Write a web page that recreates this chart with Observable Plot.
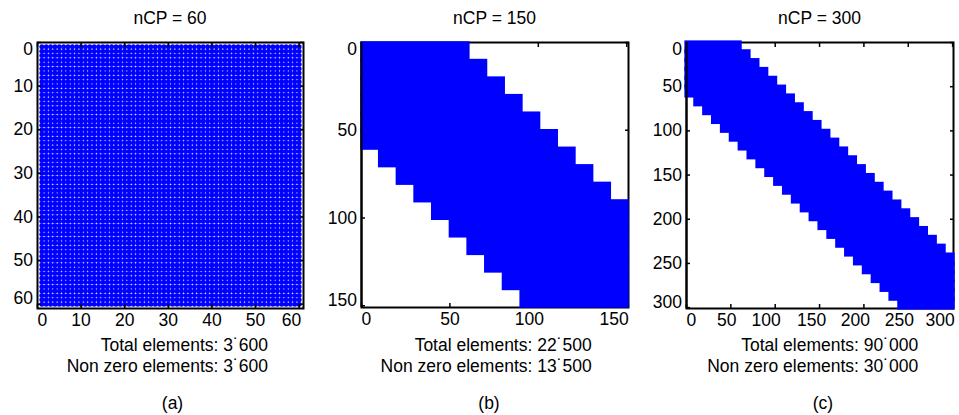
<!DOCTYPE html>
<html><head><meta charset="utf-8">
<script src="https://cdn.jsdelivr.net/npm/d3@7"></script>
<script src="https://cdn.jsdelivr.net/npm/@observablehq/plot@0.6"></script>
<style>
body{margin:0;background:#fff;}
#root{position:relative;width:959px;height:415px;overflow:hidden;font-family:"Liberation Sans",Arial,sans-serif;color:#000;background:#fff;}
.t{position:absolute;font-size:17.5px;white-space:nowrap;line-height:1;}
.p{position:absolute;top:0;}
</style></head><body><div id="root"></div>
<script>
// ---------- data ----------
const panelLabels = ["(a)", "(b)", "(c)"];
const nCP = [60, 150, 300];
const totalElements = ["3˙600", "22˙500", "90˙000"];
const nonZeroElements = ["3˙600", "13˙500", "30˙000"];

// non-zero pattern, stored as blocks of rows with their column ranges
const aRowStart = [1, 11, 21, 31, 41, 51];
const aRowEnd   = [10, 20, 30, 40, 50, 60];
const aColStart = [1, 1, 1, 1, 1, 1];
const aColEnd   = [60, 60, 60, 60, 60, 60];

const bRowStart = [1, 11, 21, 31, 41, 51, 61, 71, 81, 91, 101, 111, 121, 131, 141];
const bRowEnd   = [10, 20, 30, 40, 50, 60, 70, 80, 90, 100, 110, 120, 130, 140, 150];
const bColStart = [1, 1, 1, 1, 1, 1, 11, 21, 31, 41, 51, 61, 71, 81, 91];
const bColEnd   = [60, 70, 80, 90, 100, 110, 120, 130, 140, 150, 150, 150, 150, 150, 150];

const cRowStart = [1, 11, 21, 31, 41, 51, 61, 71, 81, 91, 101, 111, 121, 131, 141,
                   151, 161, 171, 181, 191, 201, 211, 221, 231, 241, 251, 261, 271, 281, 291];
const cRowEnd   = [10, 20, 30, 40, 50, 60, 70, 80, 90, 100, 110, 120, 130, 140, 150,
                   160, 170, 180, 190, 200, 210, 220, 230, 240, 250, 260, 270, 280, 290, 300];
const cColStart = [1, 1, 1, 1, 1, 1, 11, 21, 31, 41, 51, 61, 71, 81, 91,
                   101, 111, 121, 131, 141, 151, 161, 171, 181, 191, 201, 211, 221, 231, 241];
const cColEnd   = [60, 70, 80, 90, 100, 110, 120, 130, 140, 150, 160, 170, 180, 190, 200,
                   210, 220, 230, 240, 250, 260, 270, 280, 290, 300, 300, 300, 300, 300, 300];

const aTicks = [0, 10, 20, 30, 40, 50, 60];
const bTicks = [0, 50, 100, 150];
const cTicks = [0, 50, 100, 150, 200, 250, 300];

// ---------- build ----------
const blue = "#0000ff";
function blocks(rs, re, cs, ce) {
  return rs.map((r, i) => ({r1: r, r2: re[i], c1: cs[i], c2: ce[i]}));
}
function cells(bl) {
  const out = [];
  for (const b of bl) for (let r = b.r1; r <= b.r2; r++) for (let c = b.c1; c <= b.c2; c++) out.push({r, c});
  return out;
}

const panelData = [
  blocks(aRowStart, aRowEnd, aColStart, aColEnd),
  blocks(bRowStart, bRowEnd, bColStart, bColEnd),
  blocks(cRowStart, cRowEnd, cColStart, cColEnd)
];
const panelTicks = [aTicks, bTicks, cTicks];

const layout = [
  {left: 0,   width: 320, mL: 37, mR: 17, mT: 42, mB: 22, height: 330, cx: 170,   rx: 268,   lx: 172.5, dots: true,
   xdx: {}},
  {left: 320, width: 320, mL: 41, mR: 12, mT: 42, mB: 23, height: 330, cx: 494.5, rx: 591.7, lx: 489,   dots: false,
   xdx: {100: -9}},
  {left: 640, width: 319, mL: 46, mR: 6,  mT: 42, mB: 22, height: 330, cx: 819.5, rx: 918.3, lx: 823,   dots: false,
   xdx: {50: -4, 100: -9, 150: -8, 200: -8.5, 250: -9}}
];

const root = document.getElementById("root");

function addText(txt, css) {
  const d = document.createElement("div");
  d.className = "t";
  d.textContent = txt;
  Object.assign(d.style, css);
  root.appendChild(d);
}

nCP.forEach((n, i) => {
  const L = layout[i];
  const ticks = panelTicks[i];
  const first = ticks[0], last = ticks[ticks.length - 1];
  const mid = ticks.slice(1, -1);
  const frameMarks = [
    Plot.frame({stroke: "black", strokeWidth: 2}),
    Plot.axisX(ticks, {anchor: "bottom", tickSize: -4, fill: "none", label: null, strokeWidth: 1.5}),
    Plot.axisX(ticks, {anchor: "top", tickSize: -4, fill: "none", label: null, strokeWidth: 1.5}),
    Plot.axisY(ticks, {anchor: "left", tickSize: -4, fill: "none", label: null, strokeWidth: 1.5}),
    Plot.axisY(ticks, {anchor: "right", tickSize: -4, fill: "none", label: null, strokeWidth: 1.5})
  ];
  // tick labels
  const labelMarks = [
    Plot.axisX([first], {anchor: "bottom", tickSize: 0, tickPadding: 5, textAnchor: "start", label: null}),
    Plot.axisX([last], {anchor: "bottom", tickSize: 0, tickPadding: 5, textAnchor: "end", dx: 2, label: null}),
    ...mid.map(t => Plot.axisX([t], {anchor: "bottom", tickSize: 0, tickPadding: 5, dx: L.xdx[t] || 0, label: null})),
    Plot.axisY([first], {anchor: "left", tickSize: 0, tickPadding: 4.5, lineAnchor: "top", label: null}),
    Plot.axisY([last], {anchor: "left", tickSize: 0, tickPadding: 4.5, lineAnchor: "bottom", label: null}),
    Plot.axisY(mid, {anchor: "left", tickSize: 0, tickPadding: 4.5, label: null})
  ];
  const dataMarks = L.dots
    ? [Plot.dot(cells(panelData[i]), {x: "c", y: "r", r: 2.5, fill: blue})]
    : [Plot.rect(panelData[i], {x1: "c1", x2: "c2", y1: "r1", y2: "r2", fill: blue, inset: -2.5}),
       Plot.ruleX([0], {stroke: "black", strokeWidth: 2})];

  const marks = L.dots
    ? [...dataMarks, ...frameMarks, ...labelMarks]
    : [...frameMarks, ...dataMarks, ...labelMarks];

  const svg = Plot.plot({
    width: L.width,
    height: L.height,
    marginLeft: L.mL, marginRight: L.mR, marginTop: L.mT, marginBottom: L.mB,
    style: {fontFamily: '"Liberation Sans", Arial, sans-serif', fontSize: "17.5px", background: "transparent", overflow: "visible", color: "black"},
    x: {domain: [0, n + 1]},
    y: {domain: [0, n + 1], reverse: true},
    marks
  });
  svg.classList.add("p");
  svg.style.left = L.left + "px";
  root.appendChild(svg);

  addText(`nCP = ${n}`, {left: L.cx + "px", top: "10.2px", transform: "translateX(-50%)"});
  addText(`Total elements: ${totalElements[i]}`, {right: (959 - L.rx) + "px", top: "337.2px"});
  addText(`Non zero elements: ${nonZeroElements[i]}`, {right: (959 - L.rx) + "px", top: "357.7px"});
  addText(panelLabels[i], {left: L.lx + "px", top: "394.7px", transform: "translateX(-50%)"});
});
</script>
</body></html>
